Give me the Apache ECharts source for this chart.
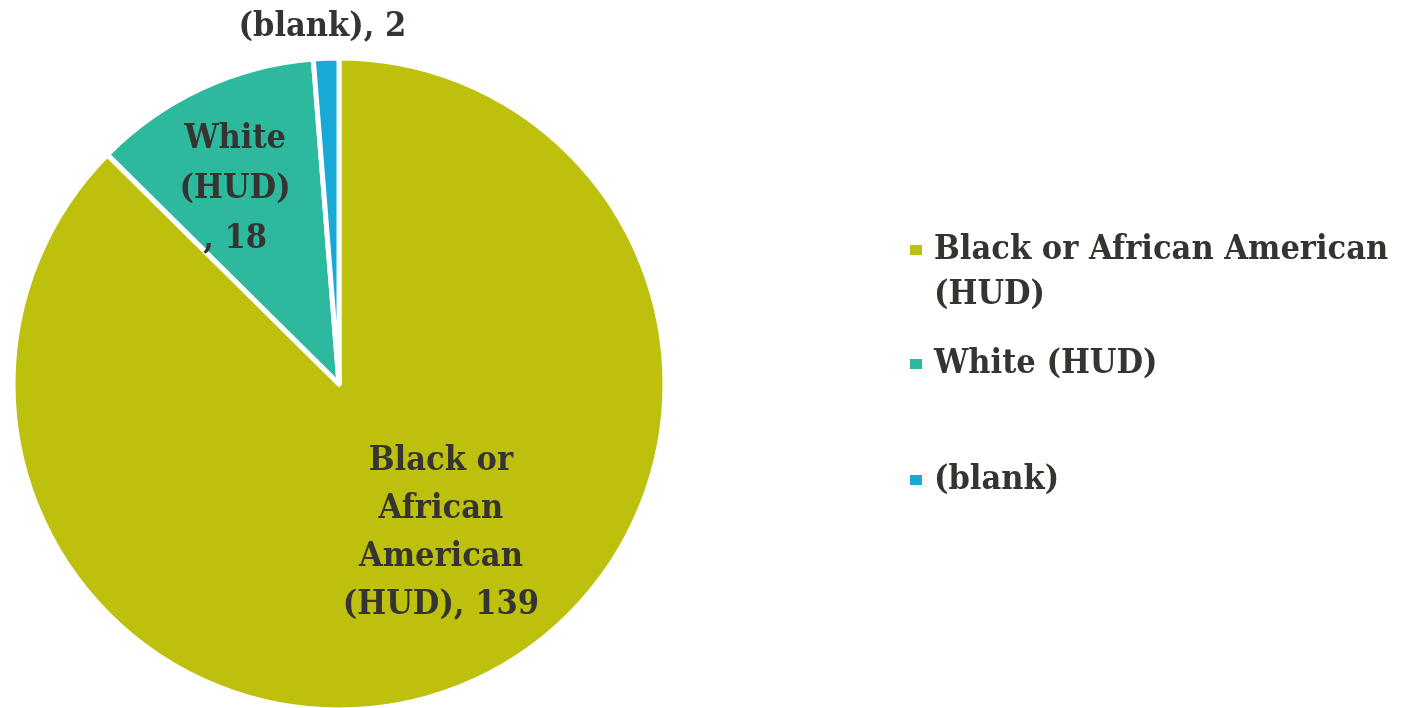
<!DOCTYPE html>
<html><head><meta charset="utf-8">
<script src="https://cdn.jsdelivr.net/npm/echarts@6/dist/echarts.min.js"></script>
<style>html,body{margin:0;padding:0;background:#fff}#c{width:1401px;height:708px}</style>
</head><body><div id="c"></div>
<script>
var categories = ['Black or African American (HUD)', 'White (HUD)', '(blank)'];
var values = [139, 18, 2];
var colors = ['#BDC10D', '#2DB99E', '#19A9D6'];
var labelTexts = ['Black or\nAfrican\nAmerican\n(HUD), 139', 'White\n(HUD)\n, 18', '(blank), 2'];
var legendTexts = ['Black or African American\n(HUD)', 'White (HUD)', '(blank)'];

var FONT = "'DejaVu Serif Condensed', 'DejaVu Serif'";
var TXT = '#363431';
var labelOffsets = [[38, -4], [-34, -44], [-10, -191]];

var chart = echarts.init(document.getElementById('c'));
var data = categories.map(function (c, i) {
  return {
    name: c, value: values[i],
    itemStyle: { color: colors[i] },
    label: { formatter: labelTexts[i], offset: labelOffsets[i], lineHeight: i === 1 ? 50 : 48 }
  };
});
function legendFor(i, top, icon, h) {
  return {
    data: [categories[i]], orient: 'vertical', left: 908, top: top, padding: 0,
    itemWidth: 20, itemHeight: h, icon: icon, selectedMode: false,
    formatter: function () { return legendTexts[i]; },
    textStyle: { fontFamily: FONT, fontSize: 34, fontWeight: 'bold', color: TXT, lineHeight: 45 }
  };
}
chart.setOption({
  animation: false,
  backgroundColor: '#fff',
  legend: [
    legendFor(0, 228, 'path://M0,1h14v12h-14z M20,0 M20,60', 60),
    legendFor(1, 341.5, 'path://M0,0h14v12h-14z M20,12', 12),
    legendFor(2, 457.5, 'path://M0,0h14v12h-14z M20,12', 12)
  ],
  series: [{
    type: 'pie',
    center: [339, 384],
    radius: 326,
    startAngle: 90,
    clockwise: true,
    avoidLabelOverlap: false,
    itemStyle: { borderColor: '#fff', borderWidth: 5 },
    label: { show: true, position: 'inside', fontFamily: FONT, fontSize: 34, fontWeight: 'bold', color: TXT, align: 'center' },
    labelLine: { show: false },
    emphasis: { disabled: true },
    data: data
  }]
});
</script></body></html>
